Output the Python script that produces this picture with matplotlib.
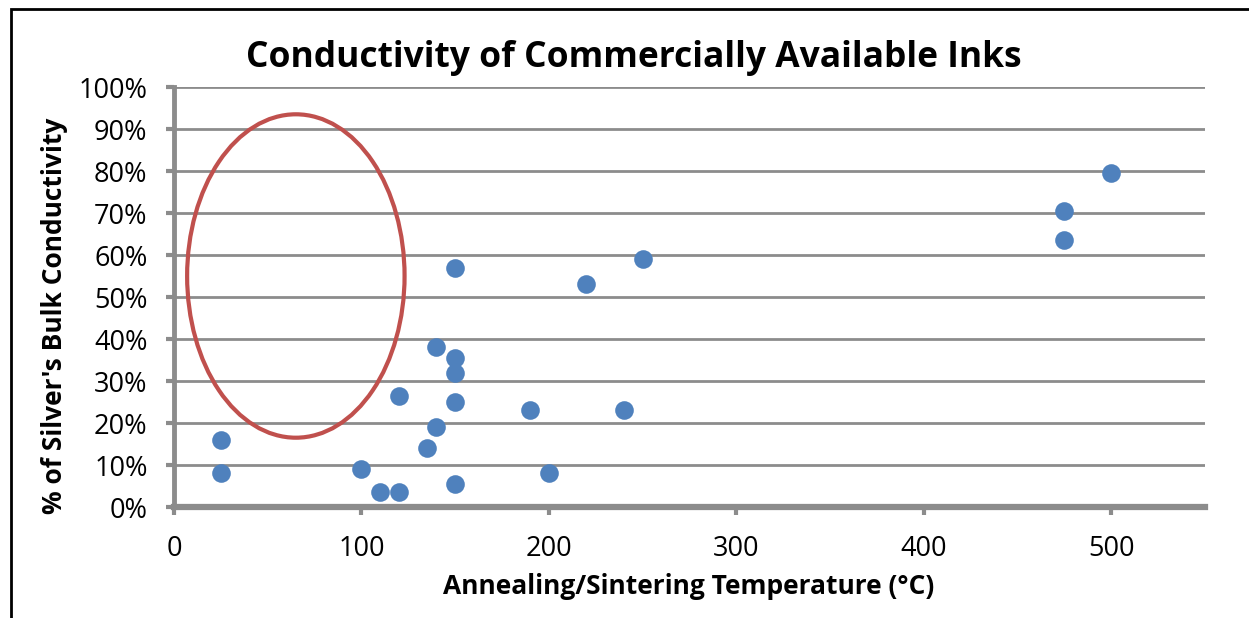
import matplotlib.pyplot as plt
from matplotlib.patches import Ellipse, Rectangle
from matplotlib.ticker import FuncFormatter

#--- ink data: anneal temp (C) vs % of bulk silver conductivity ---#
temp_c = [25, 25, 100, 110, 120, 120, 135, 140, 140, 150, 150, 150, 150, 150,
          190, 200, 220, 240, 250, 475, 475, 500]
cond_pct = [16, 8, 9, 3.5, 3.5, 26.5, 14, 19, 38, 57, 35.5, 32, 25, 5.5,
            23, 8, 53, 23, 59, 70.5, 63.5, 79.5]
x_ticks = [0, 100, 200, 300, 400, 500]
y_ticks = list(range(0, 101, 10))

# low-temperature gap region
gap_center = (65, 55)
gap_w, gap_h = 116, 77

plt.rcParams['font.family'] = ['Open Sans', 'DejaVu Sans']
grey = '#8c8c8c'

fig = plt.figure(figsize=(12.49, 6.18), dpi=100)
ax = fig.add_axes([174/1249, 1 - 507/618, (1205-174)/1249, (507-87)/618])

ax.scatter(temp_c, cond_pct, s=180, color='#4f81bd', zorder=3, linewidths=0)
ax.add_patch(Ellipse(gap_center, gap_w, gap_h, fill=False, edgecolor='#c0504d',
                     linewidth=3, zorder=4))

ax.set_xlim(0, 550)
ax.set_ylim(0, 100)
ax.set_xticks(x_ticks)
ax.set_yticks(y_ticks)
ax.yaxis.set_major_formatter(FuncFormatter(lambda v, p: f"{v:.0f}%"))
ax.yaxis.grid(True, color=grey, linewidth=2)
ax.set_axisbelow(True)
for s in ['top', 'right']:
    ax.spines[s].set_visible(False)
ax.spines['left'].set_color(grey)
ax.spines['left'].set_linewidth(3.5)
ax.spines['bottom'].set_color(grey)
ax.spines['bottom'].set_linewidth(4.5)
ax.tick_params(axis='both', colors=grey, width=3, length=6, labelsize=19.5,
               labelcolor='black')
ax.tick_params(axis='y', pad=13)
ax.tick_params(axis='x', pad=14)

fig.text(634/1249, 1 - 58/618, "Conductivity of Commercially Available Inks",
         ha='center', va='center', fontsize=25.5, fontweight='bold')
fig.text(689/1249, 1 - 587/618, "Annealing/Sintering Temperature (°C)",
         ha='center', va='center', fontsize=19, fontweight='bold')
fig.text(55/1249, 1 - 316/618, "% of Silver's Bulk Conductivity",
         ha='center', va='center', fontsize=19, fontweight='bold', rotation=90)

# outer chart border (runs off the right and bottom edges)
fig.patches.append(Rectangle((11/1249, -0.1), 1.2, 1 - 9/618 + 0.1,
                             transform=fig.transFigure, fill=False,
                             edgecolor='black', linewidth=2))

fig.savefig("out.png", dpi=100)
